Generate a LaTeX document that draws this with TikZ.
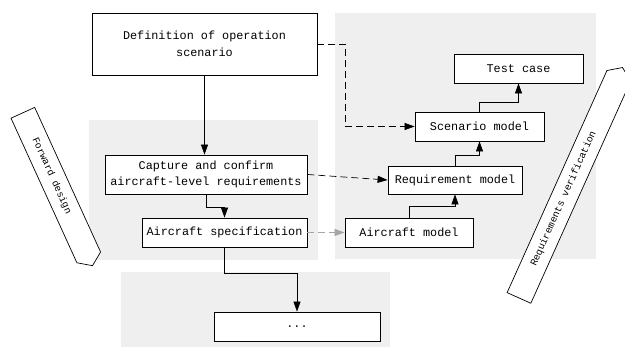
\documentclass[tikz,border=0pt]{standalone}
\usepackage{fontspec}
\setmainfont{Liberation Mono}
\usetikzlibrary{positioning,arrows.meta,shapes.symbols}
\definecolor{zonegray}{HTML}{EFEFEF}
\definecolor{linkgray}{HTML}{A6A6A6}

\begin{document}
\begin{tikzpicture}[x=1pt, y=-1pt, font=\fontsize{11.8}{16.5}\selectfont,
  box/.style={draw, line width=0.8pt, fill=white, inner sep=0pt, align=center},
  link/.style={line width=0.7pt, -{Triangle[length=10pt,width=7pt]}},
  dashlink/.style={link, dash pattern=on 7pt off 4pt},
  arrowtag/.style={draw, fill=white, line width=0.7pt, signal, signal pointer angle=110,
    inner sep=0pt, minimum height=26pt, font=\fontsize{9.8}{12}\selectfont}]

  \useasboundingbox (0,0) rectangle (625,347);
  \clip (0,0) rectangle (625,347);

  % zones
  \fill[zonegray] (89,120) rectangle (318,260);
  \fill[zonegray] (335,13) rectangle (596,259);
  \fill[zonegray] (121,272) rectangle (390,347);

  % direction tags
  \node[arrowtag, signal to=east, minimum width=168pt, rotate=-65.5] (fwd) at (55.8,185.1) {Forward design\hspace{20pt}\mbox{}};
  \node[arrowtag, signal to=east, minimum width=252.6pt, rotate=65.8] (ver) at (568.9,186.9) {Requirements verification\hspace{26pt}\mbox{}};

  % design side
  \node[box, minimum width=225pt, minimum height=62pt] (def) at (204.5,44) {Definition of operation\\scenario};
  \node[box, minimum width=202pt, minimum height=39pt] (capture) at (206,174.5) {Capture and confirm\\aircraft-level requirements};
  \node[box, minimum width=165pt, minimum height=29pt] (spec) at (224.5,232.5) {Aircraft specification};
  \node[box, minimum width=166pt, minimum height=29pt] (dots) at (297,326.5) {...};

  % verification side
  \node[box, minimum width=129pt, minimum height=29pt] (test) at (518.5,68.5) {Test case};
  \node[box, minimum width=129pt, minimum height=29pt] (scen) at (479.5,126.5) {Scenario model};
  \node[box, minimum width=134pt, minimum height=28pt] (req) at (455,180) {Requirement model};
  \node[box, minimum width=128pt, minimum height=29pt] (acm) at (409,232.5) {Aircraft model};

  \draw[link] (def.south) -- (def.south |- capture.north);
  \draw[link] (capture.south) -- ++(0,13) -| (spec.north);
  \draw[link] (spec.south) -- ++(0,26) -| (dots.north);
  \draw[dashlink] (def.east) -- ++(28,0) |- (scen.west);
  \draw[dashlink] (capture.east) -- (req.west);
  \draw[dashlink, linkgray] (spec.east) -- (acm.west);
  \draw[link] (acm.north) -- ++(0,-11) -| (req.south);
  \draw[link] (req.north) -- ++(0,-10) -| (scen.south);
  \draw[link] (scen.north) -- ++(0,-9) -| (test.south);
\end{tikzpicture}
\end{document}
